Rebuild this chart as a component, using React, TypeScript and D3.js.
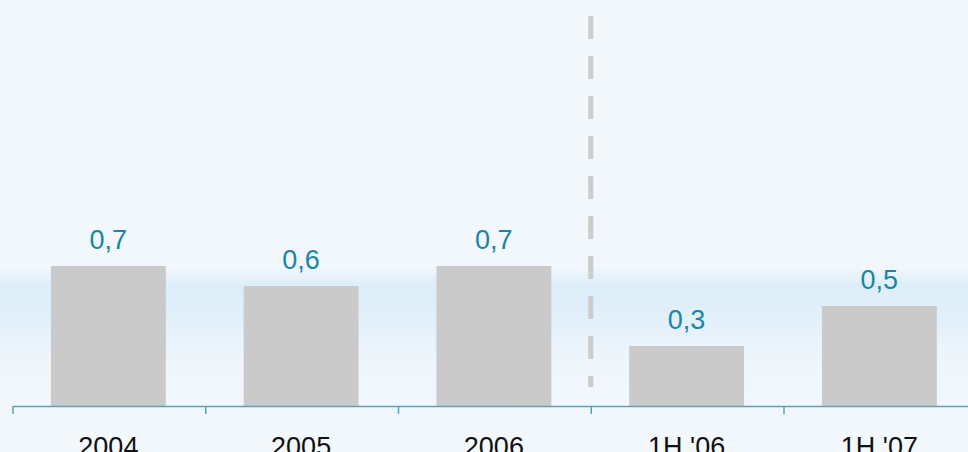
import React from "react";
import * as d3 from "d3";

const categories = ["2004", "2005", "2006", "1H '06", "1H '07"];
const values = [0.7, 0.6, 0.7, 0.3, 0.5];
const valueLabels = ["0,7", "0,6", "0,7", "0,3", "0,5"];

const W = 968;
const H = 452;

export default function App() {
  const x = d3
    .scaleBand<string>()
    .domain(categories)
    .range([13, 976.75])
    .paddingInner(0.404)
    .paddingOuter(0.202);
  const y = d3.scaleLinear().domain([0, 1]).range([406, 206]);
  const step = x.step();
  const ticks = categories.map((c) => (x(c) as number) - step * 0.202);
  const dividerX = ticks[3];
  const shift = -1;

  return (
    <svg
      width={W}
      height={H}
      style={{ position: "absolute", left: 0, top: 0, display: "block" }}
      fontFamily="'Liberation Sans', Arial, sans-serif"
    >
      <defs>
        <linearGradient id="bg" x1="0" y1="0" x2="0" y2="1">
          <stop offset="0" stopColor="#f3f8fc" />
          <stop offset={268 / H} stopColor="#f1f7fc" />
          <stop offset={285 / H} stopColor="#ddeef9" />
          <stop offset={312 / H} stopColor="#e0eff9" />
          <stop offset={365 / H} stopColor="#f0f6fc" />
          <stop offset="1" stopColor="#f3f8fc" />
        </linearGradient>
      </defs>
      <rect x={0} y={0} width={W} height={H} fill="url(#bg)" />
      <line
        x1={dividerX - 0.5}
        x2={dividerX - 0.5}
        y1={16}
        y2={387}
        stroke="#cccccc"
        strokeWidth={5}
        strokeDasharray="23 17"
      />
      {categories.map((c, i) => (
        <g key={c}>
          <rect
            x={(x(c) as number) + shift}
            y={y(values[i])}
            width={x.bandwidth()}
            height={y(0) - y(values[i])}
            fill="#cacaca"
          />
          <text
            x={(x(c) as number) + shift + x.bandwidth() / 2}
            y={y(values[i]) - 17}
            textAnchor="middle"
            fontSize={27}
            fill="#1a86a6"
          >
            {valueLabels[i]}
          </text>
          <text
            x={(x(c) as number) + shift + x.bandwidth() / 2}
            y={456}
            textAnchor="middle"
            fontSize={27}
            fill="#111111"
          >
            {c}
          </text>
        </g>
      ))}
      <line x1={13} x2={978} y1={406.5} y2={406.5} stroke="#5aa3b6" strokeWidth={1.5} />
      {ticks.map((t, i) => (
        <line key={i} x1={t} x2={t} y1={406} y2={414} stroke="#5aa3b6" strokeWidth={1.5} />
      ))}
    </svg>
  );
}
